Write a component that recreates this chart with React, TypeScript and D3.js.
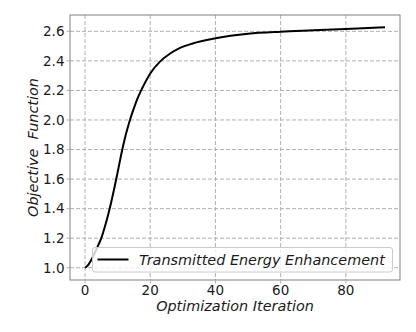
import React from "react";
import * as d3 from "d3";

const iterations = [0, 1, 2, 3, 4, 5, 6, 7, 8, 9, 10, 11, 12, 13, 14, 15, 16, 17, 18, 20, 23, 26, 29, 33, 40, 50, 60, 70, 80, 92];
const objective = [1.0, 1.02, 1.055, 1.1, 1.15, 1.2, 1.27, 1.35, 1.44, 1.54, 1.645, 1.755, 1.855, 1.94, 2.015, 2.08, 2.14, 2.19, 2.235, 2.315, 2.395, 2.448, 2.486, 2.518, 2.553, 2.584, 2.598, 2.607, 2.616, 2.627];
const xTicks = [0, 20, 40, 60, 80];
const yTicks = [1.0, 1.2, 1.4, 1.6, 1.8, 2.0, 2.2, 2.4, 2.6];
const seriesName = "Transmitted Energy Enhancement";

const W = 416, H = 332;
const L = 70, R = 400, T = 15, B = 280;
const FONT = "'DejaVu Sans', sans-serif";

export default function App() {
  const x = d3.scaleLinear().domain([-4.6, 96.6]).range([L, R]);
  const y = d3.scaleLinear().domain([0.9169, 2.7106]).range([B, T]);
  const pts = iterations.map((it, i) => [it, objective[i]] as [number, number]);
  const line = d3.line<[number, number]>().x(d => x(d[0])).y(d => y(d[1])).curve(d3.curveMonotoneX);

  return (
    <svg width={W} height={H} style={{ position: "absolute", left: 0, top: 0 }} fontFamily={FONT}>
      <rect x={0} y={0} width={W} height={H} fill="#fff" />
      {xTicks.map(t => (
        <line key={"gx" + t} x1={x(t)} x2={x(t)} y1={T} y2={B} stroke="#b0b0b0" strokeWidth={1} strokeDasharray="4,2" />
      ))}
      {yTicks.map(t => (
        <line key={"gy" + t} x1={L} x2={R} y1={y(t)} y2={y(t)} stroke="#b0b0b0" strokeWidth={1} strokeDasharray="4,2" />
      ))}
      <path d={line(pts) || ""} fill="none" stroke="#000" strokeWidth={2} />
      <rect x={L} y={T} width={R - L} height={B - T} fill="none" stroke="#808080" strokeWidth={1} />
      {xTicks.map(t => (
        <line key={"kx" + t} x1={x(t)} x2={x(t)} y1={B} y2={B + 3.5} stroke="#b0b0b0" strokeWidth={1} />
      ))}
      {yTicks.map(t => (
        <line key={"ky" + t} x1={L - 3.5} x2={L} y1={y(t)} y2={y(t)} stroke="#b0b0b0" strokeWidth={1} />
      ))}
      {xTicks.map(t => (
        <text key={"tx" + t} x={x(t)} y={B + 15} textAnchor="middle" fontSize={13.5} fill="#1a1a1a">{t}</text>
      ))}
      {yTicks.map(t => (
        <text key={"ty" + t} x={L - 5.5} y={y(t) + 4.8} textAnchor="end" fontSize={13.5} fill="#1a1a1a">{t.toFixed(1)}</text>
      ))}
      <text x={(L + R) / 2} y={311} textAnchor="middle" fontSize={14.4} fontStyle="italic" fill="#1a1a1a">Optimization Iteration</text>
      <text transform={`translate(37.5, ${(T + B) / 2}) rotate(-90)`} textAnchor="middle" fontSize={14.4} fontStyle="italic" fill="#1a1a1a" style={{ whiteSpace: "pre" }}>{"Objective  Function"}</text>
      <g>
        <rect x={92.5} y={247.5} width={300} height={24.5} rx={2.5} fill="#fff" fillOpacity={0.8} stroke="#cccccc" strokeWidth={1} />
        <line x1={97.5} x2={128.5} y1={259.5} y2={259.5} stroke="#000" strokeWidth={2} />
        <text x={139} y={264.5} fontSize={14.4} fontStyle="italic" fill="#1a1a1a">{seriesName}</text>
      </g>
    </svg>
  );
}
